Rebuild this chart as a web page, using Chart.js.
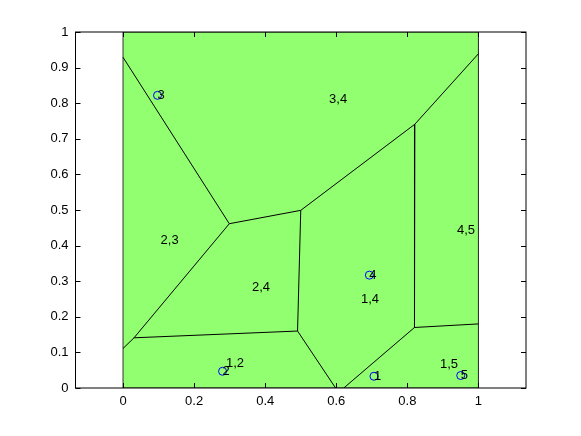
<!DOCTYPE html>
<html>
<head>
<meta charset="utf-8">
<script src="https://cdn.jsdelivr.net/npm/chart.js@4.4.1/dist/chart.umd.min.js"></script>
<style>
  body { margin: 0; background: #fff; }
  #wrap { width: 581px; height: 436px; }
</style>
</head>
<body>
<div id="wrap"><canvas id="myChart" width="581" height="436"></canvas></div>
<script>
const xTicks = [0, 0.2, 0.4, 0.6, 0.8, 1]
const yTicks = [0, 0.1, 0.2, 0.3, 0.4, 0.5, 0.6, 0.7, 0.8, 0.9, 1]

// sites
const siteNames = ['1', '2', '3', '4', '5']
const siteX = [0.706, 0.280, 0.097, 0.693, 0.950]
const siteY = [0.033, 0.047, 0.822, 0.317, 0.035]

// voronoi edges (start / end)
const edgeX1 = [0.000, 0.299, 0.500, 0.821, 0.821, 0.820, 0.820, 0.500, 0.491, 0.491, 0.031, 0.031]
const edgeY1 = [0.929, 0.4615, 0.499, 0.741, 0.741, 0.170, 0.170, 0.499, 0.160, 0.160, 0.141, 0.141]
const edgeX2 = [0.299, 0.500, 0.821, 1.000, 0.820, 1.000, 0.621, 0.491, 0.598, 0.031, 0.000, 0.299]
const edgeY2 = [0.4615, 0.499, 0.741, 0.939, 0.170, 0.180, 0.000, 0.160, 0.000, 0.141, 0.111, 0.4615]

// neighbour pair labels
const pairNames = ['3,4', '2,3', '2,4', '1,4', '4,5', '1,2', '1,5']
const pairX = [0.605, 0.131, 0.388, 0.695, 0.965, 0.315, 0.917]
const pairY = [0.812, 0.414, 0.283, 0.249, 0.444, 0.069, 0.065]

const FONT = '13px "Liberation Sans", Arial, sans-serif'

const datasets = []

// green square patch
datasets.push({
    data: [{x: 0, y: 1}, {x: 1, y: 1}],
    showLine: true,
    fill: {value: 0},
    backgroundColor: '#91ff70',
    borderWidth: 0,
    pointRadius: 0,
    order: 10
})
datasets.push({
    data: [{x: 0, y: 0}, {x: 0, y: 1}, {x: 1, y: 1}, {x: 1, y: 0}, {x: 0, y: 0}],
    showLine: true,
    borderColor: '#333',
    borderWidth: 1,
    pointRadius: 0,
    order: 9
})

edgeX1.forEach((x, i) => {
    datasets.push({
        data: [{x: x, y: edgeY1[i]}, {x: edgeX2[i], y: edgeY2[i]}],
        showLine: true,
        borderColor: '#000',
        borderWidth: 1,
        pointRadius: 0,
        order: 2
    })
})

datasets.push({
    data: siteX.map((x, i) => ({x: x, y: siteY[i]})),
    showLine: false,
    pointRadius: 4,
    pointStyle: 'circle',
    pointBorderColor: '#0000ff',
    pointBackgroundColor: 'rgba(0,0,0,0)',
    pointBorderWidth: 1,
    order: 0
})

// text labels + matlab style box and inward ticks
const matlabAxes = {
    id: 'matlabAxes',
    afterDatasetsDraw(chart) {
        const ctx = chart.ctx
        const xs = chart.scales.x, ys = chart.scales.y
        ctx.save()
        ctx.font = FONT
        ctx.fillStyle = '#000'
        ctx.textBaseline = 'middle'
        ctx.textAlign = 'left'
        siteNames.forEach((n, i) => {
            ctx.fillText(n, xs.getPixelForValue(siteX[i]), ys.getPixelForValue(siteY[i]))
        })
        ctx.textAlign = 'center'
        pairNames.forEach((n, i) => {
            ctx.fillText(n, xs.getPixelForValue(pairX[i]), ys.getPixelForValue(pairY[i]))
        })
        ctx.restore()
    },
    afterDraw(chart) {
        const ctx = chart.ctx
        const a = chart.chartArea
        const xs = chart.scales.x, ys = chart.scales.y
        const tl = 5
        ctx.save()
        ctx.strokeStyle = '#000'
        ctx.lineWidth = 1
        ctx.strokeRect(a.left, a.top, a.right - a.left, a.bottom - a.top)
        ctx.beginPath()
        xTicks.forEach(v => {
            const p = Math.round(xs.getPixelForValue(v)) + 0.5
            ctx.moveTo(p, a.bottom); ctx.lineTo(p, a.bottom - tl)
            ctx.moveTo(p, a.top); ctx.lineTo(p, a.top + tl)
        })
        yTicks.forEach(v => {
            const p = Math.round(ys.getPixelForValue(v)) + 0.5
            ctx.moveTo(a.left, p); ctx.lineTo(a.left + tl, p)
            ctx.moveTo(a.right, p); ctx.lineTo(a.right - tl, p)
        })
        ctx.stroke()
        ctx.restore()
    }
}

const ctx = document.getElementById('myChart').getContext('2d')
const myChart = new Chart(ctx, {
    type: 'scatter',
    data: {datasets: datasets},
    plugins: [matlabAxes],
    options: {
        responsive: false,
        animation: false,
        layout: {padding: {top: 32, right: 55, left: 0, bottom: 0}},
        plugins: {legend: {display: false}, tooltip: {enabled: false}},
        scales: {
            x: {
                type: 'linear',
                min: -0.1337,
                max: 1.1337,
                grid: {display: false, drawTicks: false},
                border: {display: false},
                afterBuildTicks: s => { s.ticks = xTicks.map(v => ({value: v})) },
                afterFit: s => { s.height = 48 },
                ticks: {
                    font: {family: '"Liberation Sans", Arial, sans-serif', size: 13},
                    color: '#000',
                    padding: 6,
                    maxRotation: 0,
                    callback: v => String(+v.toFixed(1))
                }
            },
            y: {
                type: 'linear',
                min: 0,
                max: 1,
                grid: {display: false, drawTicks: false},
                border: {display: false},
                afterBuildTicks: s => { s.ticks = yTicks.map(v => ({value: v})) },
                afterFit: s => { s.width = 75.5 },
                ticks: {
                    font: {family: '"Liberation Sans", Arial, sans-serif', size: 13},
                    color: '#000',
                    padding: 7,
                    callback: v => String(+v.toFixed(1))
                }
            }
        }
    }
})
</script>
</body>
</html>
